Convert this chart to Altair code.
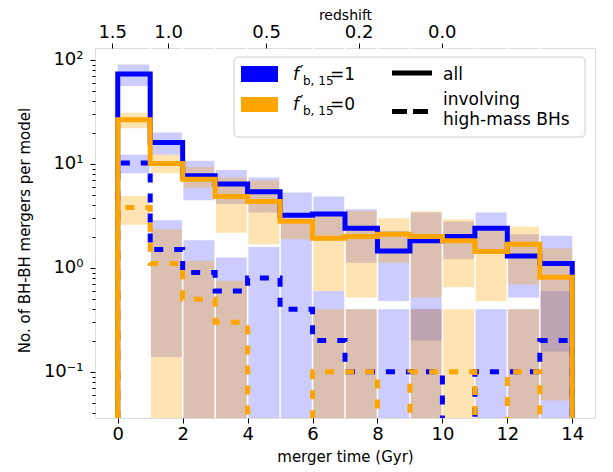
import altair as alt
import pandas as pd

# ---------------- data ----------------
bin_edges = list(range(15))  # 0..14 Gyr, 1 Gyr bins

# median step lines
blue_all = [73, 16.0, 7.7, 6.4, 5.4, 3.2, 3.3, 2.4, 1.45, 1.82, 2.0, 2.4, 1.3, 1.1]
orange_all = [26.5, 10.1, 7.1, 4.85, 4.35, 2.8, 1.93, 2.0, 2.1, 2.0, 1.82, 1.44, 1.69, 0.81]
blue_hm = [10.2, 1.5, 0.9, 0.6, 0.8, 0.4, 0.2, 0.1, 0.1, 0.1, 0.0, 0.1, 0.1, 0.2]
orange_hm = [3.8, 1.1, 0.5, 0.3, 0.0, 0.0, 0.1, 0.1, 0.0, 0.1, 0.1, 0.0, 0.1, 0.0]

# shaded ranges (low, high) per bin
blue_all_lo = [56, 12.2, 4.47, 4.1, 3.4, 1.08, 1.82, 1.12, 0.48, 0.2, 1.21, 1.46, 0.52, 0.157]
blue_all_hi = [90, 20, 10.7, 8.75, 7.4, 5.3, 4.85, 3.66, 2.27, 3.4, 2.79, 3.4, 2.1, 2.03]
orange_all_lo = [22, 8.1, 5.9, 2.18, 1.69, 1.88, 0.6, 0.52, 1.12, 0.52, 0.65, 0.48, 0.69, 0.053]
orange_all_hi = [31, 12.2, 9.35, 7.4, 6.95, 2.83, 3.16, 3.55, 3.0, 3.48, 2.93, 2.35, 2.5, 1.54]
blue_hm_lo = [8.1, 0.139, 0, 0, 0, 0, 0, 0, 0, 0, 0, 0, 0, 0]
blue_hm_hi = [12.2, 2.87, 1.84, 1.26, 1.59, 1.08, 0.6, 0.4, 0.4, 0.4, 0, 0.4, 0.4, 0.6]
orange_hm_lo = [2.6, 0, 0, 0, 0, 0, 0, 0, 0, 0, 0, 0, 0, 0]
orange_hm_hi = [4.9, 2.35, 1.17, 0.75, 0, 0, 0.4, 0.4, 0, 0.4, 0.4, 0, 0.4, 0]

# axes
x_ticks = [0, 2, 4, 6, 8, 10, 12, 14]
y_ticks = [0.1, 1, 10, 100]
y_tick_labels = ["10⁻¹", "10⁰", "10¹", "10²"]
y_minor = [m * 10.0 ** e for e in range(-2, 3) for m in range(2, 10) if 0.036 <= m * 10.0 ** e <= 130]
z_tick_gyr = [-0.17, 1.55, 4.57, 7.42, 9.98]
z_tick_labels = ["1.5", "1.0", "0.5", "0.2", "0.0"]

legend_models = ["=1", "=0"]
legend_kinds = ["all", "involving", "high-mass BHs"]

BLUE = "#0000ff"
ORANGE = "#ffa500"
FONT = "DejaVu Sans"
FLOOR = 1e-3

xscale = alt.Scale(domain=[-0.7, 14.7], nice=False, zero=False)
yscale = alt.Scale(type="log", domain=[0.036, 130], nice=False)


def js_list(vals):
    return "[" + ",".join(repr(v) if not isinstance(v, str) else "'" + v + "'" for v in vals) + "]"


x_axis = alt.Axis(values=x_ticks, title="merger time (Gyr)", grid=False, domain=False,
                  tickSize=5, tickColor="black", labelColor="black", labelFontSize=18,
                  labelPadding=2, titleFontSize=15, titleFontWeight="normal",
                  titleColor="black", titlePadding=6, labelFont=FONT, titleFont=FONT)
y_axis = alt.Axis(values=y_ticks, title="No. of BH-BH mergers per model", grid=False, domain=False,
                  tickSize=5, tickColor="black", labelColor="black", labelFontSize=18,
                  labelPadding=7, titleFontSize=15, titleFontWeight="normal",
                  titleColor="black", titleX=-63, titleY=182, labelFont=FONT, titleFont=FONT,
                  labelExpr=js_list(y_tick_labels) + "[indexof(" + js_list(y_ticks) + ", datum.value)]")


def band_df(lo, hi):
    rows = []
    for i, (l, h) in enumerate(zip(lo, hi)):
        if h > 0:
            rows.append({"x0": bin_edges[i], "x1": bin_edges[i + 1],
                         "lo": l if l > 0 else FLOOR, "hi": h})
    return pd.DataFrame(rows)


def step_df(vals):
    rows = [{"x": bin_edges[0], "y": FLOOR}]
    for i, v in enumerate(vals):
        yv = v if v > 0 else FLOOR
        rows.append({"x": bin_edges[i], "y": yv})
        rows.append({"x": bin_edges[i + 1], "y": yv})
    rows.append({"x": bin_edges[-1], "y": FLOOR})
    df = pd.DataFrame(rows)
    df["o"] = range(len(df))
    return df


def band(lo, hi, color, op, with_axes=False):
    enc_x = alt.X("x0:Q", scale=xscale, axis=x_axis) if with_axes else alt.X("x0:Q", scale=xscale, axis=None)
    enc_y = alt.Y("lo:Q", scale=yscale, axis=y_axis) if with_axes else alt.Y("lo:Q", scale=yscale, axis=None)
    return alt.Chart(band_df(lo, hi)).mark_rect(color=color, opacity=op, clip=True).encode(
        x=enc_x, x2="x1:Q", y=enc_y, y2="hi:Q")


def step(vals, color, dashed=False):
    kw = dict(color=color, strokeWidth=5, clip=True, strokeCap="butt", strokeJoin="miter")
    if dashed:
        kw["strokeDash"] = [9, 11]
    return alt.Chart(step_df(vals)).mark_line(**kw).encode(
        x=alt.X("x:Q", scale=xscale, axis=None),
        y=alt.Y("y:Q", scale=yscale, axis=None),
        order="o:Q")


bands = [
    band(blue_all_lo, blue_all_hi, BLUE, 0.2, with_axes=True),
    band(blue_hm_lo, blue_hm_hi, BLUE, 0.2),
    band(orange_all_lo, orange_all_hi, ORANGE, 0.3),
    band(orange_hm_lo, orange_hm_hi, ORANGE, 0.3),
]

edges_df = pd.DataFrame({"e": bin_edges[1:-1]})
white_rules = alt.Chart(edges_df).mark_rule(color="white", strokeWidth=1.5).encode(
    x=alt.X("e:Q", scale=xscale, axis=None))

lines = [
    step(blue_all, BLUE),
    step(blue_hm, BLUE, dashed=True),
    step(orange_all, ORANGE),
    step(orange_hm, ORANGE, dashed=True),
]

top_axis = alt.Chart(pd.DataFrame({"t": z_tick_gyr})).mark_point(opacity=0).encode(
    x=alt.X("t:Q", scale=xscale, axis=alt.Axis(
        orient="top", values=z_tick_gyr, title="redshift", grid=False, domain=False,
        tickSize=5, tickColor="black", labelColor="black", labelFontSize=18, labelPadding=1.5,
        titleFontSize=14, titleFontWeight="normal", titleColor="black",
        titleBaseline="alphabetic", titleY=-28.5,
        labelFont=FONT, titleFont=FONT,
        labelExpr=js_list(z_tick_labels) + "[indexof(" + js_list(z_tick_gyr) + ", datum.value)]")))

minor_axis = alt.Chart(pd.DataFrame({"m": y_minor})).mark_point(opacity=0).encode(
    y=alt.Y("m:Q", scale=yscale, axis=alt.Axis(
        orient="left", values=y_minor, labels=False, tickSize=3, tickColor="black",
        domain=False, grid=False, title=None)))

# ---------------- legend (drawn by hand) ----------------
one = pd.DataFrame({"a": [0]})


def txt(s, x, y, size=17, style="normal"):
    return alt.Chart(one).mark_text(text=s, align="left", baseline="alphabetic", fontSize=size,
                                    fontStyle=style, color="black", font=FONT).encode(
        x=alt.value(x), y=alt.value(y))


legend = [
    alt.Chart(one).mark_rect(fill="white", fillOpacity=0.8, stroke="#cccccc", strokeWidth=1,
                             cornerRadius=4).encode(
        x=alt.value(139), x2=alt.value(490), y=alt.value(9), y2=alt.value(89)),
    alt.Chart(one).mark_rect(color=BLUE).encode(
        x=alt.value(146), x2=alt.value(183), y=alt.value(18), y2=alt.value(34)),
    alt.Chart(one).mark_rect(color=ORANGE).encode(
        x=alt.value(146), x2=alt.value(183), y=alt.value(49), y2=alt.value(64)),
]
for (base, lab) in [(32, legend_models[0]), (62, legend_models[1])]:
    legend += [
        txt("f", 198, base, 17, "italic"),
        txt("′", 205, base - 3, 15),
        txt("b, 15", 208, base + 4.5, 12),
        txt(lab, 235, base, 17),
    ]
legend += [
    alt.Chart(one).mark_rule(color="black", strokeWidth=5).encode(
        x=alt.value(297), x2=alt.value(337), y=alt.value(25)),
    alt.Chart(one).mark_rule(color="black", strokeWidth=5, strokeDash=[15, 6]).encode(
        x=alt.value(297), x2=alt.value(337), y=alt.value(63.5)),
    txt(legend_kinds[0], 348, 32, 17),
    txt(legend_kinds[1], 348, 57, 17),
    txt(legend_kinds[2], 348, 77, 17),
]

chart = alt.layer(*bands, white_rules, *lines, top_axis, minor_axis, *legend).resolve_axis(
    x="independent", y="independent"
).properties(
    width=500, height=370,
    autosize=alt.AutoSizeParams(type="none"),
    padding={"left": 87, "top": 40, "right": 10, "bottom": 54},
).configure_view(stroke="black", strokeWidth=1.1).configure(font=FONT)

chart.save("out.html", embed_options={"renderer": "svg", "actions": False})
